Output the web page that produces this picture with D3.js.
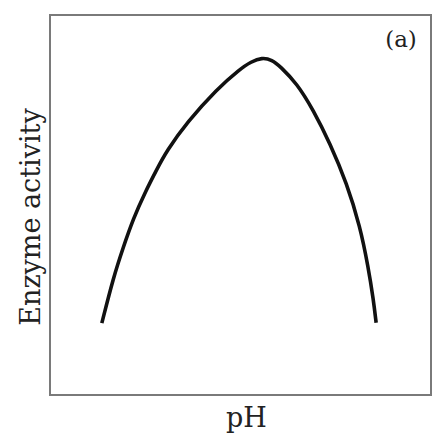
<!DOCTYPE html>
<html>
<head>
<meta charset="utf-8">
<script src="https://cdn.jsdelivr.net/npm/d3@7"></script>
<style>
  html, body { margin: 0; padding: 0; background: #fff; }
  text { font-family: "DejaVu Serif", "Liberation Serif", serif; fill: #222; }
</style>
</head>
<body>
<svg id="chart" width="445" height="438"></svg>
<script>
// pH (arbitrary 0-10 over the frame width) and activity (arbitrary 0-10)
const phValues = [1.36, 1.66, 1.92, 2.19, 2.49, 2.80, 3.06, 3.60, 4.38, 4.99, 5.28, 5.56, 5.83, 6.04, 6.48, 6.91, 7.35, 7.79, 8.14, 8.35, 8.49, 8.56];
const activity = [1.89, 3.08, 3.88, 4.65, 5.32, 5.93, 6.42, 7.18, 8.05, 8.58, 8.77, 8.88, 8.82, 8.65, 8.20, 7.50, 6.62, 5.57, 4.43, 3.38, 2.50, 1.90];
const panelLabel = "(a)";
const xTitle = "pH";
const yTitle = "Enzyme activity";

const svg = d3.select("#chart");
const box = { left: 50, top: 15, right: 431, bottom: 395 };

const x = d3.scaleLinear().domain([0, 10]).range([box.left, box.right]);
const y = d3.scaleLinear().domain([0, 10]).range([box.bottom, box.top]);

// frame
svg.append("rect")
  .attr("x", box.left)
  .attr("y", box.top)
  .attr("width", box.right - box.left)
  .attr("height", box.bottom - box.top)
  .attr("fill", "none")
  .attr("stroke", "#7a7a7a")
  .attr("stroke-width", 2);

// activity curve, smoothed through the read-off points
const pts = phValues.map((p, i) => [p, activity[i]]);
const line = d3.line()
  .x(d => x(d[0]))
  .y(d => y(d[1]))
  .curve(d3.curveBasis);

svg.append("path")
  .datum(pts)
  .attr("d", line)
  .attr("fill", "none")
  .attr("stroke", "#111")
  .attr("stroke-width", 3.6);

// labels
svg.append("text")
  .attr("x", 401)
  .attr("y", 47)
  .attr("text-anchor", "middle")
  .attr("font-size", 23)
  .text(panelLabel);

svg.append("text")
  .attr("x", (box.left + box.right) / 2 + 6)
  .attr("y", 427)
  .attr("text-anchor", "middle")
  .attr("font-size", 27)
  .text(xTitle);

svg.append("text")
  .attr("transform", `translate(40,217) rotate(-90)`)
  .attr("text-anchor", "middle")
  .attr("font-size", 27)
  .text(yTitle);
</script>
</body>
</html>
